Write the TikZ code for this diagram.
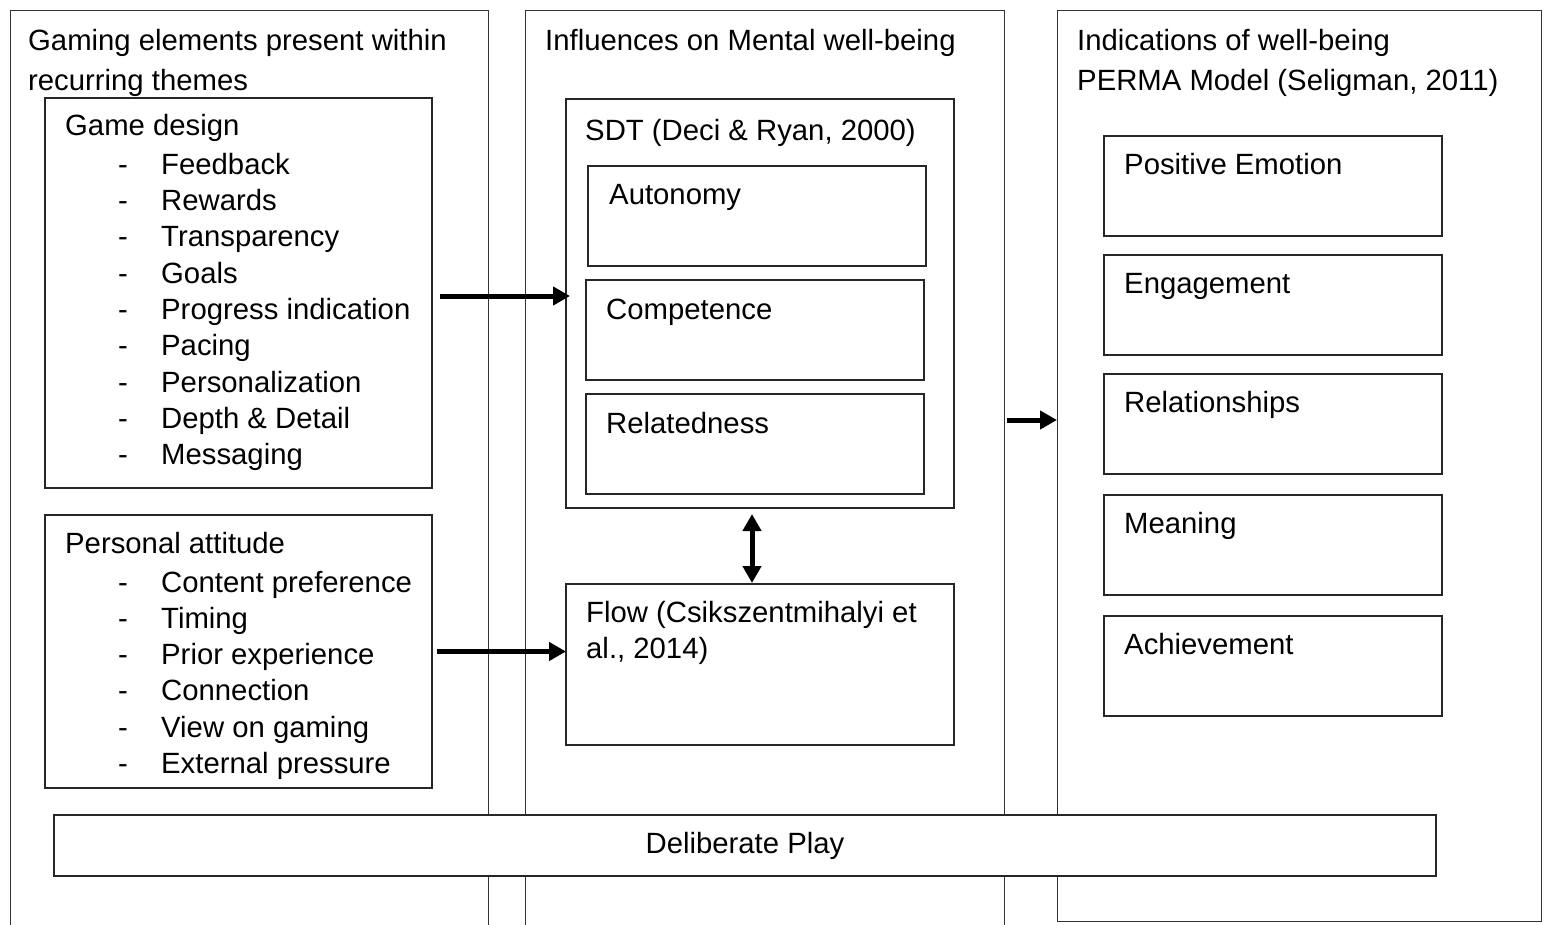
\documentclass[tikz,border=0pt]{standalone}
\usepackage{fontspec}
\setmainfont{Liberation Sans}
\usetikzlibrary{arrows.meta}
\tikzset{
  column/.style={draw=black!80, line width=1pt, inner sep=0pt, outer sep=0pt, anchor=north west},
  frame/.style={draw=black!85, line width=1.6pt, inner sep=0pt, outer sep=0pt, anchor=north west},
  txt/.style={anchor=base west, inner sep=0pt, font=\fontsize{29.3}{36}\selectfont},
  arr/.style={line width=5pt, -{Triangle[length=17pt 0 0,width=18pt 0 0]}},
  dblarr/.style={line width=5pt, {Triangle[length=17pt 0 0,width=18pt 0 0]}-{Triangle[length=17pt 0 0,width=18pt 0 0]}}
}
\begin{document}
\begin{tikzpicture}[x=1pt,y=-1pt]
\useasboundingbox (0,0) rectangle (1544,924);
% columns
\node[column, minimum width=478pt, minimum height=940pt] (leftcol) at (10,10) {};
\node[column, minimum width=479pt, minimum height=940pt] (midcol) at (525,10) {};
\node[column, minimum width=484pt, minimum height=911pt] (rightcol) at (1057,10) {};
\node[txt] (lefthead1) at (28,50) {Gaming elements present within};
\node[txt] (lefthead2) at (28,90) {recurring themes};
\node[txt] (midhead) at (545,50) {Influences on Mental well-being};
\node[txt] (righthead1) at (1077,50) {Indications of well-being};
\node[txt] (righthead2) at (1077,90) {PERMA Model (Seligman, 2011)};
% left column
\node[frame, minimum width=387pt, minimum height=390pt] (design) at (45,98) {};
\node[txt] (designhead) at (65,135) {Game design};
\foreach \entry [count=\i] in {Feedback, Rewards, Transparency, Goals, Progress indication, Pacing, Personalization, Depth \& Detail, Messaging} {
  \node[txt] (gd-dash-\i) at (118,{137.65+36.35*\i}) {-};
  \node[txt] (gd-\i) at (161,{137.65+36.35*\i}) {\entry};
}
\node[frame, minimum width=387pt, minimum height=273pt] (attitude) at (45,515) {};
\node[txt] (attitudehead) at (65,553) {Personal attitude};
\foreach \entry [count=\i] in {Content preference, Timing, Prior experience, Connection, View on gaming, External pressure} {
  \node[txt] (pa-dash-\i) at (118,{555.7+36.3*\i}) {-};
  \node[txt] (pa-\i) at (161,{555.7+36.3*\i}) {\entry};
}
% middle column
\node[frame, minimum width=388pt, minimum height=409pt] (sdt) at (566,99) {};
\node[txt] (sdthead) at (585,140) {SDT (Deci \& Ryan, 2000)};
\node[frame, minimum width=338pt, minimum height=100pt] (autonomy) at (588,166) {};
\node[txt] (autonomytxt) at (609,204) {Autonomy};
\node[frame, minimum width=338pt, minimum height=100pt] (competence) at (586,280) {};
\node[txt] (competencetxt) at (606,319) {Competence};
\node[frame, minimum width=338pt, minimum height=100pt] (relatedness) at (586,394) {};
\node[txt] (relatednesstxt) at (606,433) {Relatedness};
\node[frame, minimum width=388pt, minimum height=161pt] (flow) at (566,584) {};
\node[txt] (flowtxt1) at (586,622) {Flow (Csikszentmihalyi et};
\node[txt] (flowtxt2) at (586,658) {al., 2014)};
% right column
\foreach \entry/\y [count=\i] in {Positive Emotion/136, Engagement/255, Relationships/374, Meaning/495, Achievement/616} {
  \node[frame, minimum width=338pt, minimum height=100pt] (perma-\i) at (1104,\y) {};
  \node[txt] (permatxt-\i) at (1124,{\y+38}) {\entry};
}
% bottom bar
\node[frame, fill=white, minimum width=1382pt, minimum height=61pt, font=\fontsize{29.3}{36}\selectfont] (play) at (54,815) {Deliberate Play};
% arrows
\draw[arr] ([xshift=8pt,yshift=-3pt]design.east) -- ([xshift=4pt,yshift=-3pt]design.east -| sdt.west);
\draw[arr] ([xshift=5pt]attitude.east) -- (attitude.east -| flow.west);
\draw[dblarr, shorten <=6pt, shorten >=1pt] ([xshift=-8pt]sdt.south) -- ([xshift=-8pt]flow.north);
\draw[arr, shorten <=3pt] ([yshift=4pt]midcol.east |- perma-3.west) -- ([yshift=4pt]rightcol.west |- perma-3.west);
\end{tikzpicture}
\end{document}
